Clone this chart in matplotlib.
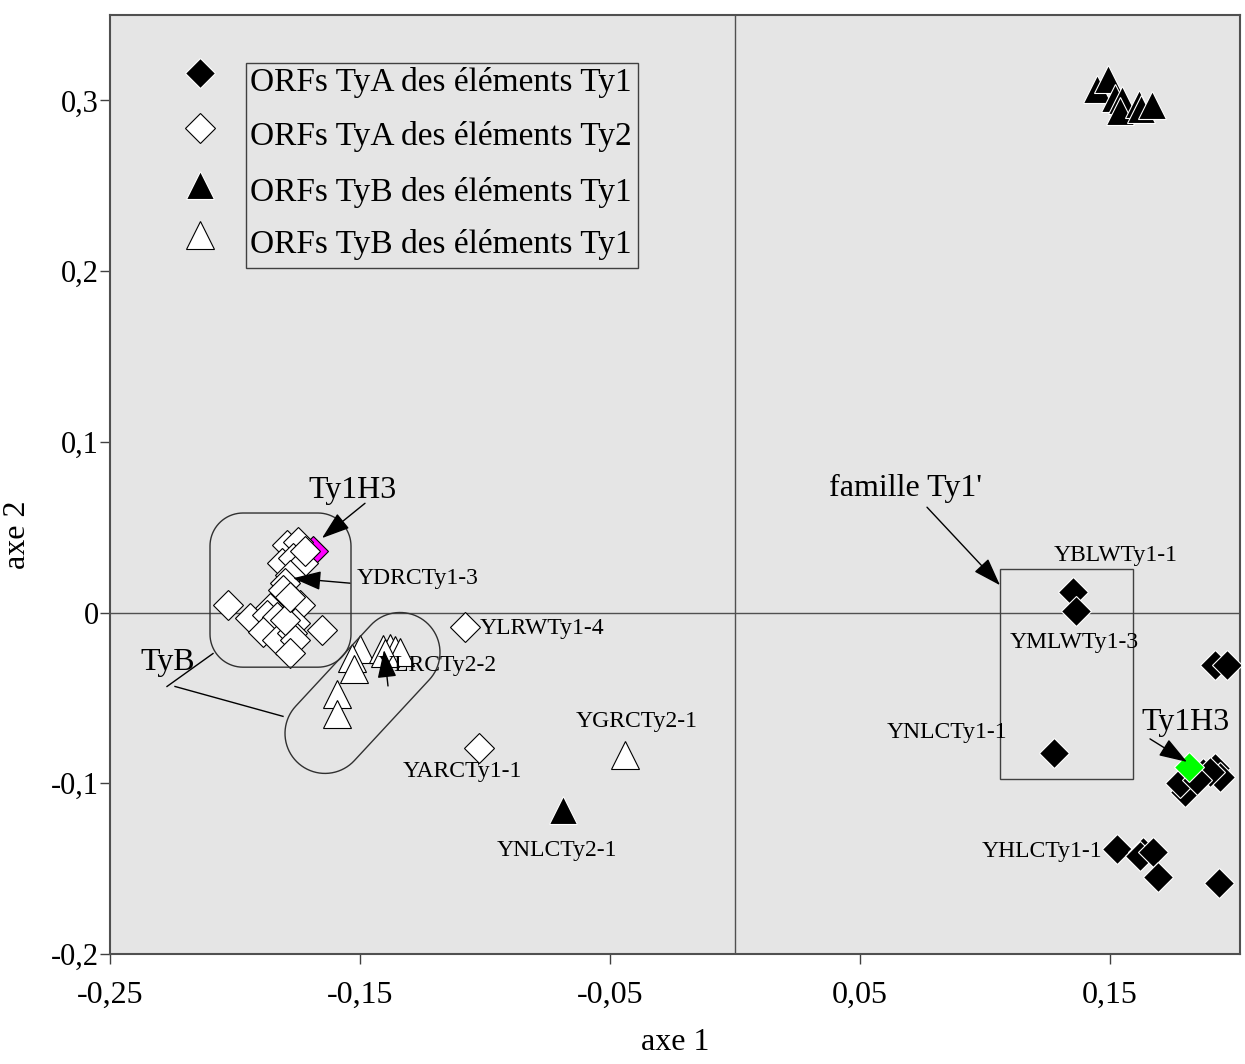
import numpy as np
import matplotlib.pyplot as plt
from matplotlib.patches import Polygon, Rectangle

plt.rcParams['font.family'] = ['Liberation Serif', 'DejaVu Serif']

# ORFs TyA des elements Ty1 (losanges noirs)
tya_ty1_x = [0.1352, 0.1364, 0.1276, 0.1920, 0.1968, 0.1800, 0.1780, 0.1872, 0.1920,
             0.1940, 0.1900, 0.1848, 0.1528, 0.1632, 0.1620, 0.1672, 0.1692, 0.1936]
tya_ty1_y = [0.0119, 0.0008, -0.0823, -0.0307, -0.0307, -0.1050, -0.0998, -0.0939, -0.0910,
             -0.0963, -0.0934, -0.0981, -0.1385, -0.1403, -0.1426, -0.1403, -0.1549, -0.1584]

# ORFs TyA des elements Ty2 (losanges blancs)
tya_ty2_x = [-0.2028, -0.1652, -0.1792, -0.1748, -0.1812, -0.1768, -0.1728, -0.1780, -0.1800,
             -0.1720, -0.1740, -0.1828, -0.1860, -0.1940, -0.1872, -0.1832, -0.1760, -0.1888,
             -0.1832, -0.1772, -0.1760, -0.1780, -0.1800, -0.1808, -0.1780, -0.1080, -0.1024]
tya_ty2_y = [0.0043, -0.0103, 0.0395, 0.0412, 0.0289, 0.0318, 0.0289, 0.0219, 0.0172,
             0.0359, 0.0043, 0.0061, 0.0026, -0.0033, -0.0015, -0.0027, -0.0062, -0.0115,
             -0.0162, -0.0121, -0.0162, -0.0238, -0.0044, 0.0131, 0.0090, -0.0085, -0.0794]

# ORFs TyB des elements Ty1 (triangles noirs)
tyb_ty1_x = [0.1448, 0.1492, 0.1520, 0.1548, 0.1540, 0.1616, 0.1624, 0.1668, -0.0688]
tyb_ty1_y = [0.3064, 0.3123, 0.3012, 0.3001, 0.2936, 0.2977, 0.2947, 0.2971, -0.1156]

# ORFs TyB (triangles blancs)
tyb_w_x = [-0.1500, -0.1532, -0.1524, -0.1592, -0.1592, -0.1408, -0.1380, -0.1360, -0.1340,
           -0.1400, -0.0440]
tyb_w_y = [-0.0213, -0.0267, -0.0331, -0.0477, -0.0594, -0.0213, -0.0208, -0.0220, -0.0232,
           -0.0237, -0.0834]

# Ty1H3
ty1h3_a_x, ty1h3_a_y = [-0.1688], [0.0359]   # magenta
ty1h3_b_x, ty1h3_b_y = [0.1816], [-0.0905]   # vert

x_ticks = [-0.25, -0.15, -0.05, 0.05, 0.15]
x_labels = ['-0,25', '-0,15', '-0,05', '0,05', '0,15']
y_ticks = [-0.2, -0.1, 0, 0.1, 0.2, 0.3]
y_labels = ['-0,2', '-0,1', '0', '0,1', '0,2', '0,3']

legend_labels = ['ORFs TyA des éléments Ty1', 'ORFs TyA des éléments Ty2',
                 'ORFs TyB des éléments Ty1', 'ORFs TyB des éléments Ty1']

XMIN, XMAX, YMIN, YMAX = -0.25, 0.202, -0.2, 0.35
W_PX, H_PX = 1245, 1064
AX_L, AX_R, AX_T, AX_B = 110, 1240, 15, 954

fig = plt.figure(figsize=(W_PX / 100, H_PX / 100), dpi=100)
ax = fig.add_axes([AX_L / W_PX, 1 - AX_B / H_PX, (AX_R - AX_L) / W_PX, (AX_B - AX_T) / H_PX])
ax.set_facecolor('#e5e5e5')
ax.set_xlim(XMIN, XMAX)
ax.set_ylim(YMIN, YMAX)

PX_X = (AX_R - AX_L) / (XMAX - XMIN)
PX_Y = (AX_B - AX_T) / (YMAX - YMIN)

ax.axhline(0, color='#505050', lw=1, zorder=1)
ax.axvline(0, color='#505050', lw=1, zorder=1)

ms_d = 15.5
ms_t = 19.5
ax.plot(ty1h3_a_x, ty1h3_a_y, 'D', ms=ms_d, mfc='#ff00ff', mec='black', mew=0.8, zorder=2)
ax.plot(tya_ty2_x, tya_ty2_y, 'D', ms=ms_d, mfc='white', mec='black', mew=0.8, ls='none', zorder=3)
ax.plot(tyb_w_x, tyb_w_y, '^', ms=ms_t, mfc='white', mec='black', mew=0.8, ls='none', zorder=3)
ax.plot(tya_ty1_x, tya_ty1_y, 'D', ms=ms_d, mfc='black', mec='white', mew=0.8, ls='none', zorder=3)
ax.plot(tyb_ty1_x, tyb_ty1_y, '^', ms=ms_t, mfc='black', mec='white', mew=0.8, ls='none', zorder=3)
ax.plot(ty1h3_b_x, ty1h3_b_y, 'D', ms=ms_d, mfc='#00ff00', mec='white', mew=0.8, zorder=4)


def round_rect(x0, y0, x1, y1, r):
    kx, ky = r / PX_X, r / PX_Y
    pts = []
    corners = [(x1 - kx, y1 - ky, 0), (x0 + kx, y1 - ky, 90),
               (x0 + kx, y0 + ky, 180), (x1 - kx, y0 + ky, 270)]
    for cx, cy, a0 in corners:
        t = np.radians(np.linspace(a0, a0 + 90, 20))
        pts += list(zip(cx + kx * np.cos(t), cy + ky * np.sin(t)))
    return pts


def capsule(c1, c2, r):
    p1 = np.array([c1[0] * PX_X, c1[1] * PX_Y])
    p2 = np.array([c2[0] * PX_X, c2[1] * PX_Y])
    ang = np.degrees(np.arctan2(p2[1] - p1[1], p2[0] - p1[0]))
    pts = []
    for p, a0 in [(p2, ang - 90), (p1, ang + 90)]:
        t = np.radians(np.linspace(a0, a0 + 180, 40))
        for tt in t:
            pts.append(((p[0] + r * np.cos(tt)) / PX_X, (p[1] + r * np.sin(tt)) / PX_Y))
    return pts


ax.add_patch(Polygon(round_rect(-0.2100, -0.0320, -0.1536, 0.0583, 33), closed=True,
                     fill=False, ec='#303030', lw=1, zorder=5))
ax.add_patch(Polygon(capsule((-0.1640, -0.0708), (-0.1340, -0.0234), 40), closed=True,
                     fill=False, ec='#303030', lw=1, zorder=5))
ax.add_patch(Rectangle((0.1060, -0.0975), 0.0532, 0.1229, fill=False, ec='#404040',
                       lw=1, zorder=5))

# etiquettes
small = 17
big = 23
ax.text(-0.1512, 0.0201, 'YDRCTy1-3', fontsize=small, va='center', zorder=6)
ax.text(-0.1020, -0.0091, 'YLRWTy1-4', fontsize=small, va='center', zorder=6)
ax.text(-0.1428, -0.0312, 'YLRCTy2-2', fontsize=small, va='center', zorder=6)
ax.text(-0.1328, -0.0929, 'YARCTy1-1', fontsize=small, va='center', zorder=6)
ax.text(-0.0636, -0.0641, 'YGRCTy2-1', fontsize=small, va='center', zorder=6)
ax.text(-0.0952, -0.1391, 'YNLCTy2-1', fontsize=small, va='center', zorder=6)
ax.text(0.1276, 0.0336, 'YBLWTy1-1', fontsize=small, va='center', zorder=6)
ax.text(0.1100, -0.0173, 'YMLWTy1-3', fontsize=small, va='center', zorder=6)
ax.text(0.0608, -0.0700, 'YNLCTy1-1', fontsize=small, va='center', zorder=6)
ax.text(0.0988, -0.1402, 'YHLCTy1-1', fontsize=small, va='center', zorder=6)
ax.text(-0.1528, 0.0717, 'Ty1H3', fontsize=big, ha='center', va='center', zorder=6)
ax.text(0.1624, -0.0646, 'Ty1H3', fontsize=big, va='center', zorder=6)
ax.text(0.0376, 0.0729, "famille Ty1'", fontsize=big, va='center', zorder=6)
ax.text(-0.2380, -0.0295, 'TyB', fontsize=big, va='center', zorder=6)

arrow = dict(arrowstyle='-|>,head_length=0.5,head_width=0.17', color='black', lw=1,
             mutation_scale=35, shrinkA=0, shrinkB=0)
arrows = [((-0.1480, 0.0640), (-0.1652, 0.0436)),
          ((-0.1540, 0.0172), (-0.1768, 0.0201)),
          ((-0.1388, -0.0430), (-0.1404, -0.0219)),
          ((0.1660, -0.0740), (0.1808, -0.0875)),
          ((0.0768, 0.0617), (0.1060, 0.0160))]
for start, tip in arrows:
    ax.annotate('', xy=tip, xytext=start, arrowprops=arrow, zorder=7)

ax.plot([-0.2272, -0.2088], [-0.0433, -0.0240], color='black', lw=1, zorder=5)
ax.plot([-0.2240, -0.1808], [-0.0433, -0.0608], color='black', lw=1, zorder=5)

# legende
leg_x = (200 - AX_L) / (AX_R - AX_L)
leg_ys = [0.9382, 0.8797, 0.8190, 0.7657]
txt_ys = [0.9286, 0.8701, 0.8115, 0.7551]
styles = [('D', 'black', 'white', ms_d), ('D', 'white', 'black', ms_d),
          ('^', 'black', 'white', ms_t), ('^', 'white', 'black', ms_t)]
for (m, fc, ec, s), my, ty, lab in zip(styles, leg_ys, txt_ys, legend_labels):
    ax.plot([leg_x], [my], m, ms=s, mfc=fc, mec=ec, mew=0.8, transform=ax.transAxes, zorder=6)
    ax.text(0.1239, ty, lab, fontsize=24, va='center', transform=ax.transAxes, zorder=6)
ax.add_patch(Rectangle((0.1204, 0.7306), 0.3469, 0.2183, transform=ax.transAxes,
                       fill=False, ec='#404040', lw=1, zorder=5))

ax.set_xticks(x_ticks)
ax.set_xticklabels(x_labels)
ax.set_yticks(y_ticks)
ax.set_yticklabels(y_labels)
ax.tick_params(axis='x', direction='out', length=7, width=1, colors='#404040',
               labelcolor='black', labelsize=23, pad=12)
ax.tick_params(axis='y', direction='out', length=7, width=1, colors='#404040',
               labelcolor='black', labelsize=22, pad=1)
for sp in ax.spines.values():
    sp.set_color('#505050')
    sp.set_linewidth(1.5)

ax.set_xlabel('axe 1', fontsize=23)
ax.set_ylabel('axe 2', fontsize=23)
ax.xaxis.set_label_coords(0.5, -0.0785)
ax.yaxis.set_label_coords(-0.0690, 0.446)

fig.savefig('out.png', dpi=100)
